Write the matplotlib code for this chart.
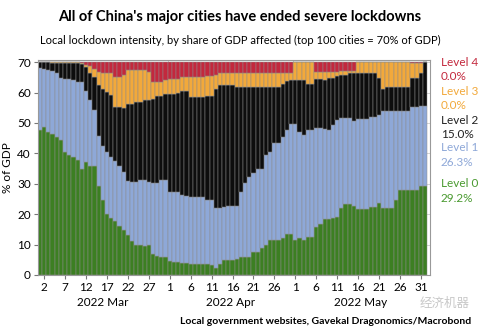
import numpy as np
import matplotlib
matplotlib.use("Agg")
import matplotlib.pyplot as plt

plt.rcParams['font.family'] = ['Lato', 'DejaVu Sans']

# cumulative tops, one value per day from 1 Mar 2022
green_top = [47.8, 48.6, 46.9, 46.5, 45.4, 44.5, 40.4, 39.5, 38.8, 37.7,
             34.9, 37.1, 36.0, 35.8, 29.4, 24.6, 19.9, 18.8, 17.8, 16.2,
             14.8, 13.1, 11.0, 10.0, 9.7, 9.4, 10.0, 6.8, 6.2, 6.0,
             6.0, 4.6, 4.4, 4.2, 4.0, 3.8, 3.7, 3.7, 3.7, 3.7,
             3.6, 3.2, 2.4, 3.6, 4.8, 5.0, 5.0, 5.2, 6.0, 6.0,
             6.0, 7.6, 7.6, 8.7, 10.0, 11.5, 11.5, 11.5, 12.3, 13.3,
             13.3, 11.5, 12.3, 11.6, 12.6, 12.6, 15.9, 16.7, 18.3, 18.3,
             18.6, 19.0, 21.9, 23.2, 23.2, 22.8, 21.6, 21.6, 21.6, 22.5,
             22.5, 23.6, 21.9, 21.9, 21.9, 24.6, 27.9, 27.9, 27.9, 27.9,
             27.9, 29.2, 29.2]
blue_top = [68.0, 67.8, 67.3, 67.0, 66.5, 64.8, 64.5, 64.4, 64.2, 63.6,
            63.4, 60.6, 57.7, 54.4, 45.6, 42.3, 40.4, 38.8, 37.5, 35.8,
            33.9, 30.9, 30.7, 30.7, 31.2, 31.2, 30.7, 30.1, 30.1, 31.2,
            31.2, 27.4, 27.2, 27.2, 26.3, 26.1, 25.7, 25.7, 25.7, 25.7,
            24.6, 24.6, 21.9, 22.1, 22.4, 22.8, 22.8, 22.8, 27.4, 30.1,
            32.3, 33.4, 35.0, 35.0, 39.4, 40.5, 43.3, 43.3, 45.5, 47.7,
            49.8, 49.8, 46.9, 46.2, 47.7, 47.7, 48.2, 48.2, 48.0, 47.7,
            49.3, 51.0, 51.8, 51.8, 51.8, 50.7, 51.3, 51.3, 51.3, 52.0,
            52.0, 52.6, 53.9, 53.9, 53.9, 53.9, 53.9, 54.0, 54.0, 55.4,
            55.4, 55.5, 55.5]
black_top = [70.0, 70.0, 70.0, 69.8, 69.7, 69.7, 69.7, 69.7, 69.7, 69.7,
             69.5, 68.5, 66.3, 65.2, 62.4, 61.3, 60.2, 59.1, 55.3, 55.3,
             54.8, 56.4, 56.4, 56.9, 56.9, 57.5, 57.5, 58.0, 58.9, 58.9,
             59.4, 59.4, 59.4, 60.0, 60.5, 60.5, 58.6, 58.4, 58.4, 58.4,
             58.9, 58.9, 61.3, 62.4, 62.4, 62.4, 62.4, 62.0, 62.0, 62.0,
             62.0, 61.7, 61.7, 61.7, 61.7, 61.7, 61.7, 61.9, 62.7, 63.7,
             64.1, 64.1, 64.1, 64.1, 63.0, 63.0, 64.4, 64.4, 64.1, 64.8,
             64.8, 65.5, 65.7, 65.7, 66.3, 66.3, 66.3, 66.3, 66.3, 66.3,
             66.3, 64.8, 61.3, 61.8, 61.7, 61.7, 61.7, 61.7, 61.7, 64.8,
             64.8, 66.3, 70.2]
orange_top = [70.0, 70.0, 70.0, 70.0, 70.0, 70.0, 70.0, 70.0, 70.0, 70.0,
              69.9, 69.2, 68.8, 67.9, 66.8, 66.3, 66.3, 66.3, 65.2, 65.2,
              65.7, 67.4, 67.4, 67.4, 67.4, 67.4, 66.8, 63.5, 63.5, 63.5,
              64.1, 64.6, 64.6, 64.6, 65.2, 65.2, 65.2, 65.2, 65.2, 65.2,
              65.5, 65.5, 65.7, 66.3, 66.3, 66.3, 66.3, 66.3, 66.3, 66.3,
              66.3, 66.3, 66.3, 66.3, 66.3, 66.3, 66.3, 66.3, 66.3, 66.3,
              66.3, 70.0, 70.0, 70.0, 70.0, 70.0, 66.8, 66.8, 66.8, 66.8,
              66.8, 66.8, 67.0, 67.0, 67.0, 67.0, 70.0, 70.0, 70.0, 70.0,
              70.0, 70.0, 70.0, 70.0, 70.0, 70.0, 70.0, 70.0, 70.0, 69.6,
              69.6, 69.6, 70.2]
total = 70.0

tick_pos = [1, 6, 11, 16, 21, 26, 31, 36, 41, 46, 51, 56, 61, 66, 71, 76, 81, 86, 91]
tick_labels = ['2', '7', '12', '17', '22', '27', '1', '6', '11', '16', '21', '26',
               '1', '6', '11', '16', '21', '26', '31']
months = ['2022 Mar', '2022 Apr', '2022 May']
month_pos = [15, 45.5, 76.5]

legend_names = ['Level 4', 'Level 3', 'Level 2', 'Level 1', 'Level 0']
legend_vals = ['0.0%', '0.0%', '15.0%', '26.3%', '29.2%']

c_green = '#3c7f22'
c_blue = '#8ea8d8'
c_black = '#0d0d0d'
c_orange = '#f2a93b'
c_red = '#c3283d'

g = np.array(green_top)
b = np.array(blue_top)
k = np.array(black_top)
o = np.minimum(np.array(orange_top), total)
o = np.maximum(o, k)
red_top = np.maximum(np.full(len(g), total), o)

x = np.arange(len(g))

fig = plt.figure(figsize=(4.8, 3.34), dpi=100)
ax = fig.add_axes([0.079, 0.177, 0.817, 0.643])

w = 1.0
edge = dict(edgecolor='#8c8c8c', linewidth=0.35)
ax.bar(x, g, width=w, color=c_green, zorder=2, **edge)
ax.bar(x, b - g, bottom=g, width=w, color=c_blue, zorder=2, **edge)
ax.bar(x, k - b, bottom=b, width=w, color=c_black, zorder=2, **edge)
ax.bar(x, o - k, bottom=k, width=w, color=c_orange, zorder=2, **edge)
ax.bar(x, red_top - o, bottom=o, width=w, color=c_red, zorder=2, **edge)

ax.set_xlim(-0.5, 93.2)
ax.set_ylim(0, 70.7)
ax.set_yticks(range(0, 71, 10))
ax.set_xticks(tick_pos)
ax.set_xticklabels(tick_labels)
ax.tick_params(labelsize=8.5, length=3, color='#777777', pad=2)
for s in ax.spines.values():
    s.set_color('#999999')
    s.set_linewidth(0.8)

ax.grid(axis='y', color='#cccccc', linewidth=0.6, zorder=0)
for m in [30.5, 60.5]:
    ax.axvline(m, color='#cccccc', linewidth=0.6, zorder=0)
ax.set_axisbelow(True)

ax.set_ylabel('% of GDP', fontsize=8.5, labelpad=3)

for m, p in zip(months, month_pos):
    ax.text(p, -0.105, m, transform=ax.get_xaxis_transform(),
            ha='center', va='top', fontsize=8.5)

fig.text(0.5, 0.948, "All of China's major cities have ended severe lockdowns",
         ha='center', va='center', fontsize=10.5, fontweight='bold')
fig.text(0.5, 0.88, 'Local lockdown intensity, by share of GDP affected (top 100 cities = 70% of GDP)',
         ha='center', va='center', fontsize=8)
fig.text(0.982, 0.036, 'Local government websites, Gavekal Dragonomics/Macrobond',
         ha='right', va='center', fontsize=7.5, fontweight='bold')
fig.text(0.875, 0.09, '经济机器', ha='left', va='center', fontsize=9,
         color='#c8c8c8', family=['Noto Sans CJK SC', 'DejaVu Sans'])

# right hand labels
label_colors = [c_red, c_orange, '#222222', c_blue, '#4a9a30']
label_y = [0.814, 0.771, 0.727, 0.683, 0.640, 0.596, 0.557, 0.512, 0.452, 0.407]
for j in range(5):
    fig.text(0.918, label_y[2 * j], legend_names[j], color=label_colors[j],
             fontsize=8.5, va='center', ha='left')
    fig.text(0.918, label_y[2 * j + 1], legend_vals[j], color=label_colors[j],
             fontsize=8.5, va='center', ha='left')

fig.savefig('out.png', dpi=100)
